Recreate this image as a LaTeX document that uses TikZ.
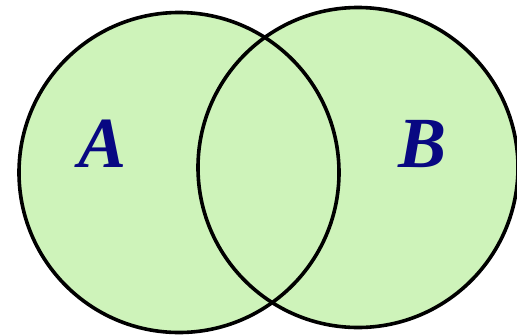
\documentclass[tikz,border=0pt]{standalone}
\usepackage{fontspec}
\setmainfont{Liberation Serif}
\begin{document}
\begin{tikzpicture}[
  x=1pt, y=-1pt,
  setcircle/.style={circle, fill=setgreen, inner sep=0pt, minimum size=320pt},
  setborder/.style={draw=black, line width=3.6pt},
  setlabel/.style={text=setblue, font=\fontsize{72}{72}\selectfont\bfseries\itshape, inner sep=0pt}
]
  \definecolor{setgreen}{RGB}{206,243,186}
  \definecolor{setblue}{RGB}{8,8,130}
  \useasboundingbox (0,0) rectangle (517,335);

  % Dos conjuntos del mismo radio que se solapan
  \node[setcircle] (A) at (179,172.5) {};
  \node[setcircle] (B) at (358,167.5) {};
  % Bordes encima de ambos rellenos
  \draw[setborder] (A.center) circle (160pt);
  \draw[setborder] (B.center) circle (160pt);

  % Etiquetas de los conjuntos
  \node[setlabel, anchor=base] (labA) at (103,167) {A};
  \node[setlabel, anchor=base] (labB) at (423,167) {B};
\end{tikzpicture}
\end{document}
